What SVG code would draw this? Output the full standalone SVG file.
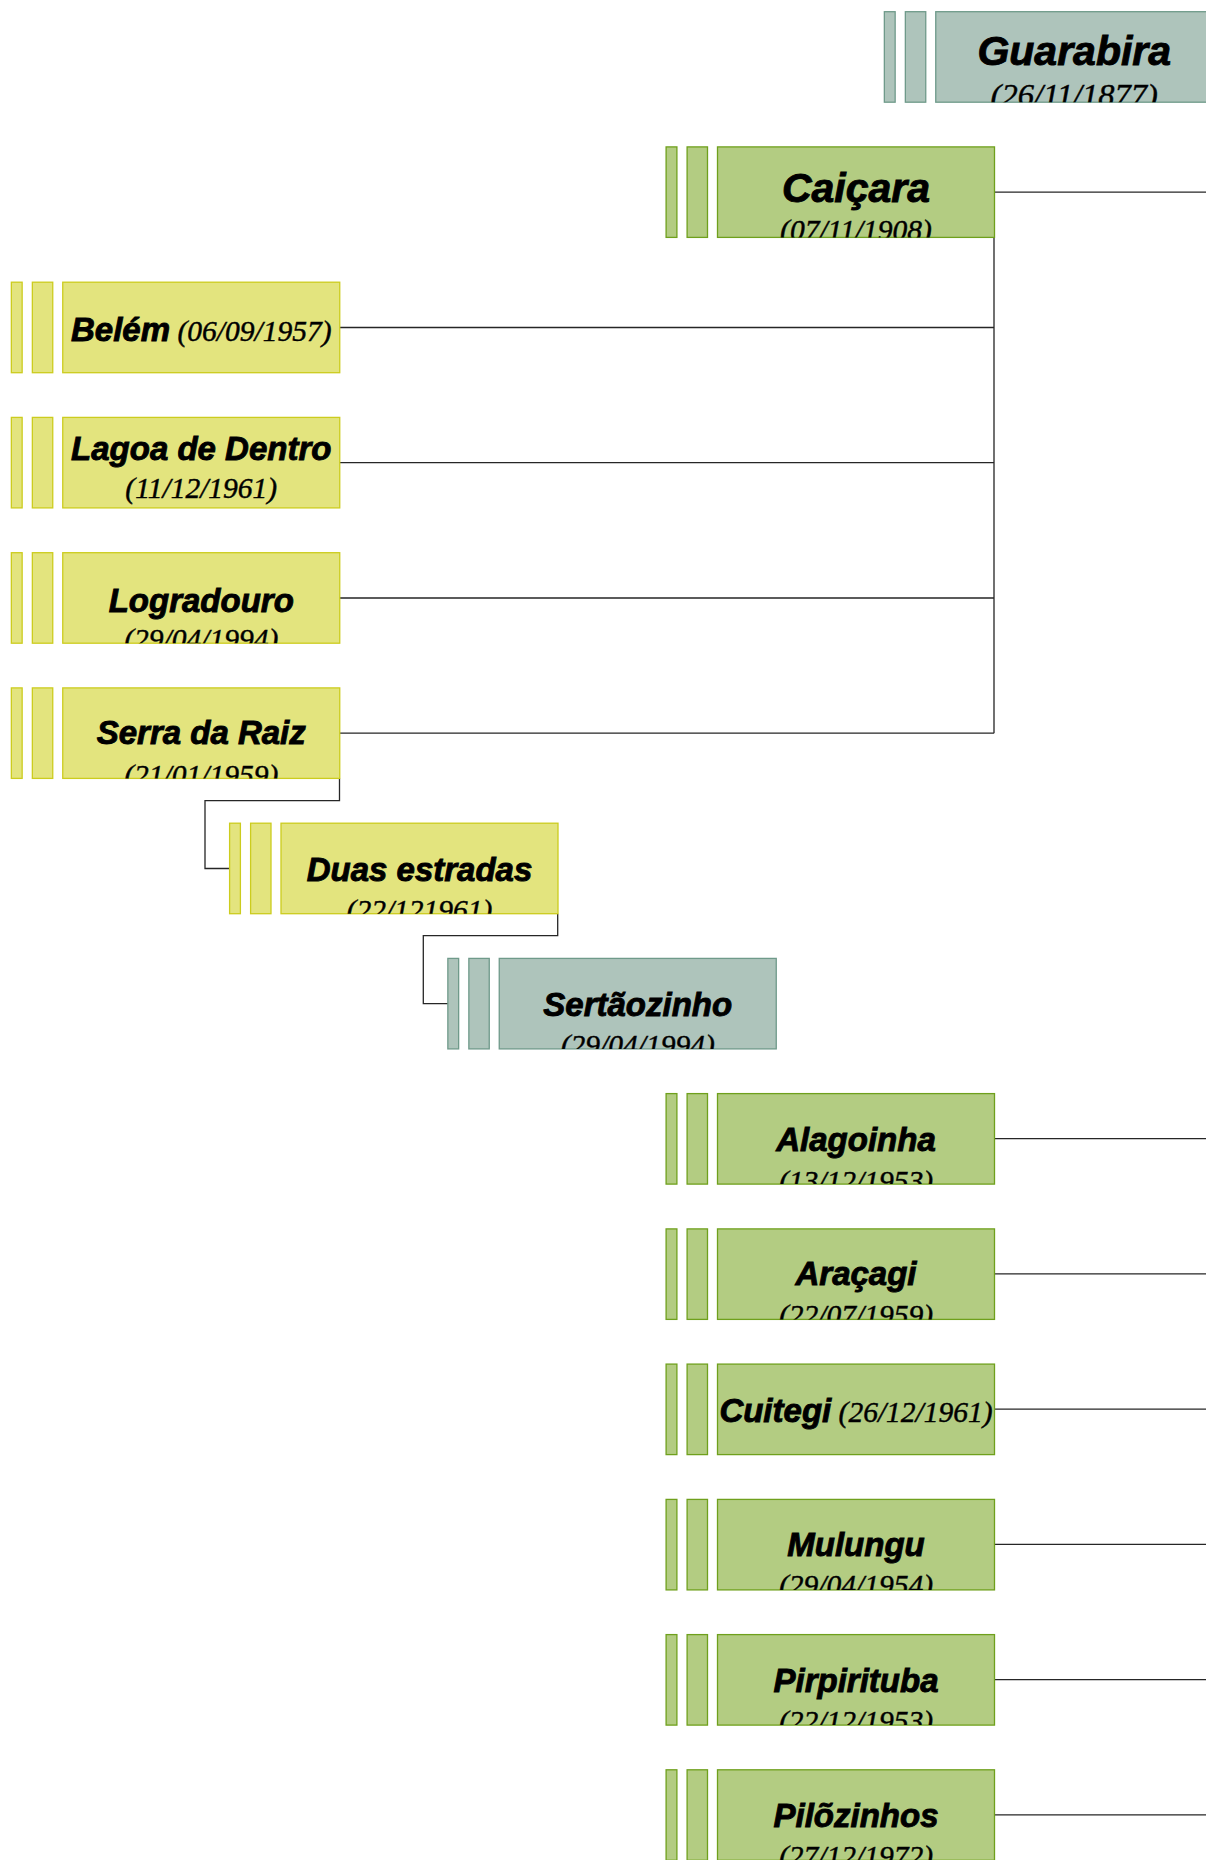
<svg xmlns="http://www.w3.org/2000/svg" width="1206" height="1860" viewBox="0 0 1206 1860">
<style>
  .y>use{fill:#e3e47e;stroke:#cccc1e;stroke-width:1.3}
  .g>use{fill:#b3cc82;stroke:#6fa01c;stroke-width:1.3}
  .s>use{fill:#aec4bb;stroke:#6f9a8a;stroke-width:1.3}
  .nm{font-family:"Liberation Sans",Arial,sans-serif;font-weight:bold;font-style:italic;font-size:33px;fill:#000;stroke:#000;stroke-width:0.9}
  .big{font-size:41px}
  .dt{font-family:"Liberation Serif","Times New Roman",serif;font-style:italic;font-weight:normal;font-size:29.5px;fill:#000;stroke:#000;stroke-width:0.45}
  .dtb{font-size:32.5px}
  .cn{fill:none;stroke:#262626;stroke-width:1.3}
</style>
<defs>
  <clipPath id="cb" clipPathUnits="userSpaceOnUse"><rect x="0" y="0" width="277" height="90.5"/></clipPath>
  <g id="bars"><rect x="-51.4" y="0" width="10.8" height="90.5"/><rect x="-30.4" y="0" width="20.4" height="90.5"/><rect x="0" y="0" width="277" height="90.5"/></g>
</defs>

<g id="connectors">
  <line class="cn" x1="994" y1="192.2" x2="1206" y2="192.2"/>
  <line class="cn" x1="994" y1="1138.6" x2="1206" y2="1138.6"/>
  <line class="cn" x1="994" y1="1273.9" x2="1206" y2="1273.9"/>
  <line class="cn" x1="994" y1="1409.1" x2="1206" y2="1409.1"/>
  <line class="cn" x1="994" y1="1544.4" x2="1206" y2="1544.4"/>
  <line class="cn" x1="994" y1="1679.6" x2="1206" y2="1679.6"/>
  <line class="cn" x1="994" y1="1814.9" x2="1206" y2="1814.9"/>
  <path class="cn" d="M994,237.5 V733.2 M339.5,327.5 H994 M339.5,462.7 H994 M339.5,598 H994 M339.5,733.2 H994"/>
  <path class="cn" d="M339.5,778.5 V800.7 H205 V868.5 H230"/>
  <path class="cn" d="M557.7,913.7 V935.7 H423.3 V1003.7 H448.3"/>
</g>

<g id="n-guarabira" class="s" transform="translate(935.75,11.7)">
  <use href="#bars"/>
  <g clip-path="url(#cb)"><text text-anchor="middle"><tspan class="nm big" x="138.5" y="53">Guarabira</tspan><tspan class="dt dtb" x="138.5" y="94">(26/11/1877)</tspan></text></g>
</g>
<g id="n-caicara" class="g" transform="translate(717.5,146.9)">
  <use href="#bars"/>
  <g clip-path="url(#cb)"><text text-anchor="middle"><tspan class="nm big" x="138.5" y="55">Caiçara</tspan><tspan class="dt" x="138.5" y="93">(07/11/1908)</tspan></text></g>
</g>
<g id="n-belem" class="y" transform="translate(62.75,282.2)">
  <use href="#bars"/>
  <g clip-path="url(#cb)"><text x="138.5" y="59" text-anchor="middle"><tspan class="nm">Belém</tspan><tspan class="dt"> (06/09/1957)</tspan></text></g>
</g>
<g id="n-lagoa" class="y" transform="translate(62.75,417.4)">
  <use href="#bars"/>
  <g clip-path="url(#cb)"><text text-anchor="middle"><tspan class="nm" x="138.5" y="43">Lagoa de Dentro</tspan><tspan class="dt" x="138.5" y="80.5">(11/12/1961)</tspan></text></g>
</g>
<g id="n-logradouro" class="y" transform="translate(62.75,552.7)">
  <use href="#bars"/>
  <g clip-path="url(#cb)"><text text-anchor="middle"><tspan class="nm" x="138.5" y="59">Logradouro</tspan><tspan class="dt" x="138.5" y="96">(29/04/1994)</tspan></text></g>
</g>
<g id="n-serra" class="y" transform="translate(62.75,687.9)">
  <use href="#bars"/>
  <g clip-path="url(#cb)"><text text-anchor="middle"><tspan class="nm" x="138.5" y="56.5">Serra da Raiz</tspan><tspan class="dt" x="138.5" y="97">(21/01/1959)</tspan></text></g>
</g>
<g id="n-duas" class="y" transform="translate(281,823.2)">
  <use href="#bars"/>
  <g clip-path="url(#cb)"><text text-anchor="middle"><tspan class="nm" x="138.5" y="58">Duas estradas</tspan><tspan class="dt" x="138.5" y="97">(22/121961)</tspan></text></g>
</g>
<g id="n-sertaozinho" class="s" transform="translate(499.25,958.4)">
  <use href="#bars"/>
  <g clip-path="url(#cb)"><text text-anchor="middle"><tspan class="nm" x="138.5" y="58">Sertãozinho</tspan><tspan class="dt" x="138.5" y="97">(29/04/1994)</tspan></text></g>
</g>
<g id="n-alagoinha" class="g" transform="translate(717.5,1093.6)">
  <use href="#bars"/>
  <g clip-path="url(#cb)"><text text-anchor="middle"><tspan class="nm" x="138.5" y="57">Alagoinha</tspan><tspan class="dt" x="138.5" y="97">(13/12/1953)</tspan></text></g>
</g>
<g id="n-aracagi" class="g" transform="translate(717.5,1228.9)">
  <use href="#bars"/>
  <g clip-path="url(#cb)"><text text-anchor="middle"><tspan class="nm" x="138.5" y="56">Araçagi</tspan><tspan class="dt" x="138.5" y="96">(22/07/1959)</tspan></text></g>
</g>
<g id="n-cuitegi" class="g" transform="translate(717.5,1364.1)">
  <use href="#bars"/>
  <g clip-path="url(#cb)"><text x="138.5" y="58" text-anchor="middle"><tspan class="nm">Cuitegi</tspan><tspan class="dt"> (26/12/1961)</tspan></text></g>
</g>
<g id="n-mulungu" class="g" transform="translate(717.5,1499.4)">
  <use href="#bars"/>
  <g clip-path="url(#cb)"><text text-anchor="middle"><tspan class="nm" x="138.5" y="57">Mulungu</tspan><tspan class="dt" x="138.5" y="96">(29/04/1954)</tspan></text></g>
</g>
<g id="n-pirpirituba" class="g" transform="translate(717.5,1634.6)">
  <use href="#bars"/>
  <g clip-path="url(#cb)"><text text-anchor="middle"><tspan class="nm" x="138.5" y="57">Pirpirituba</tspan><tspan class="dt" x="138.5" y="96">(22/12/1953)</tspan></text></g>
</g>
<g id="n-pilozinhos" class="g" transform="translate(717.5,1769.8)">
  <use href="#bars"/>
  <g clip-path="url(#cb)"><text text-anchor="middle"><tspan class="nm" x="138.5" y="57">Pilõzinhos</tspan><tspan class="dt" x="138.5" y="96">(27/12/1972)</tspan></text></g>
</g>
</svg>
